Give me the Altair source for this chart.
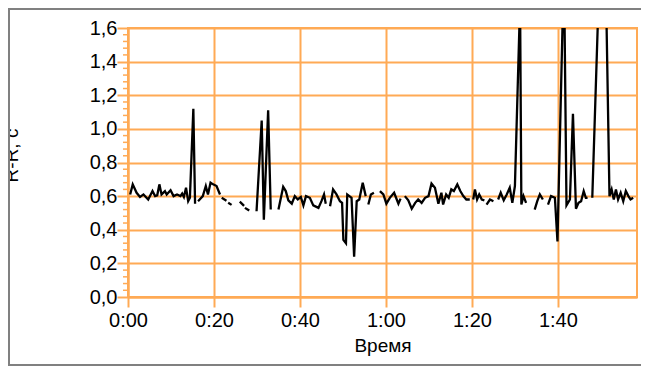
import altair as alt
import pandas as pd

# time (seconds), R-R interval (s), continuous segment id
t_sec = [0.5, 1.1, 2.0, 2.8, 3.6, 4.7, 5.7, 6.3, 6.8, 7.3, 7.8, 8.6, 9.0, 9.9, 10.6, 11.4, 12.2, 12.6, 13.0, 13.5, 14.0, 14.4, 15.2, 15.6,
         16.3, 17.4, 18.1, 18.6, 19.2, 19.8, 20.6, 21.4,
         21.8, 22.9,
         23.3, 24.1,
         26.0, 27.0,
         27.2, 28.2,
         29.9, 31.1, 31.6, 32.6, 33.2,
         35.0, 36.1, 36.7, 37.3, 38.1, 38.8, 39.5, 40.2, 40.8, 41.4, 42.3, 43.1, 44.3, 45.0, 45.6, 46.0,
         47.0, 47.7, 48.5, 49.3, 49.8, 50.1, 50.7, 51.0, 52.0, 52.6, 53.2, 53.8, 54.6, 55.3,
         55.9, 56.5, 57.2,
         58.6, 59.4, 60.1, 60.9, 61.9, 62.9, 63.4,
         64.4, 65.2, 66.0, 66.8, 67.5, 68.3, 69.1, 69.9, 70.6, 71.4, 72.2, 72.9, 73.3, 74.0, 74.6, 75.2, 75.8, 76.6, 77.3, 78.0, 78.7, 79.5,
         80.3, 80.7, 81.2, 81.7, 82.3, 82.9,
         83.4, 84.2, 85.0,
         86.1, 86.7, 87.4, 88.1, 88.8, 89.4, 90.0, 91.2, 91.5, 92.0, 92.6,
         94.6, 95.2, 95.8, 96.5,
         97.7, 98.4, 99.3, 99.9, 101.2, 101.5, 102.0, 102.8, 103.5, 104.2, 104.8, 105.4, 106.0, 106.5, 106.9,
         108.0, 109.5, 111.2, 112.0, 112.5, 113.0, 113.5, 114.0, 114.6, 115.2, 115.8, 116.4, 116.9, 117.5]

rr = [0.61, 0.67, 0.62, 0.595, 0.61, 0.58, 0.63, 0.60, 0.605, 0.67, 0.61, 0.63, 0.61, 0.635, 0.60, 0.61, 0.60, 0.615, 0.595, 0.65, 0.57, 0.59, 1.12, 0.555,
      0.57, 0.60, 0.66, 0.61, 0.68, 0.67, 0.66, 0.61,
      0.59, 0.573,
      0.561, 0.548,
      0.567, 0.542,
      0.53, 0.514,
      0.51, 1.05, 0.46, 1.11, 0.52,
      0.52, 0.655, 0.63, 0.575, 0.555, 0.60, 0.58, 0.595, 0.545, 0.60, 0.59, 0.545, 0.53, 0.57, 0.61, 0.555,
      0.54, 0.64, 0.61, 0.57, 0.56, 0.34, 0.32, 0.61, 0.59, 0.24, 0.57, 0.58, 0.68, 0.60,
      0.55, 0.61, 0.62,
      0.63, 0.61, 0.555, 0.59, 0.62, 0.555, 0.585,
      0.60, 0.575, 0.525, 0.56, 0.58, 0.56, 0.59, 0.60, 0.675, 0.65, 0.555, 0.62, 0.55, 0.61, 0.59, 0.64, 0.63, 0.67, 0.63, 0.60, 0.58, 0.58,
      0.58, 0.64, 0.58, 0.61, 0.58, 0.575,
      0.55, 0.58, 0.57,
      0.58, 0.62, 0.575, 0.61, 0.65, 0.56, 0.66, 1.75, 0.55, 0.60, 0.56,
      0.52, 0.57, 0.61, 0.58,
      0.55, 0.60, 0.59, 0.33, 1.75, 1.75, 0.545, 0.58, 1.09, 0.525, 0.56, 0.57, 0.63, 0.59, 0.59,
      0.59, 1.8, 1.8, 0.60, 0.64, 0.58, 0.64, 0.58, 0.62, 0.57, 0.63, 0.60, 0.58, 0.59]

seg = [1] * 24 + [2] * 8 + [3] * 2 + [4] * 2 + [5] * 2 + [6] * 2 + [7] * 5 + [8] * 16 + [9] * 14 + [10] * 3 + \
      [11] * 7 + [12] * 22 + [13] * 6 + [14] * 3 + [15] * 11 + [16] * 4 + [17] * 15 + [18] * 14

x_ticks = [0, 20, 40, 60, 80, 100]
y_ticks = [0.0, 0.2, 0.4, 0.6, 0.8, 1.0, 1.2, 1.4, 1.6]
y_minor = [0.04, 0.08, 0.12, 0.16, 0.24, 0.28, 0.32, 0.36, 0.44, 0.48, 0.52, 0.56,
           0.64, 0.68, 0.72, 0.76, 0.84, 0.88, 0.92, 0.96, 1.04, 1.08, 1.12, 1.16,
           1.24, 1.28, 1.32, 1.36, 1.44, 1.48, 1.52, 1.56]

ORANGE = "#FFAA55"
FONT = "Liberation Sans"

df = pd.DataFrame({"t": t_sec, "rr": rr, "seg": seg})
minor_df = pd.DataFrame({"v": y_minor})

x_scale = alt.Scale(domain=[0, 118.4], nice=False, zero=False)
y_scale = alt.Scale(domain=[0, 1.6], nice=False)

y_axis = alt.Axis(values=y_ticks, title="R-R, c", labelOverlap=False, labelFlush=False,
                  labelExpr="replace(format(datum.value, '.1f'), '.', ',')",
                  titleAngle=270, titleX=-111, titleY=127,
                  titleAlign="center", titleBaseline="alphabetic")

line = alt.Chart(df).mark_line(color="black", strokeWidth=2.3, clip=True).encode(
    x=alt.X("t:Q", scale=x_scale,
            axis=alt.Axis(values=x_ticks, title="Время", labelFlush=False, labelOverlap=False,
                          labelExpr="floor(datum.value/60) + ':' + (datum.value % 60 < 10 ? '0' : '') + (datum.value % 60)")),
    y=alt.Y("rr:Q", scale=y_scale, axis=y_axis),
    detail="seg:N",
)

minor = alt.Chart(minor_df).mark_rule(color=ORANGE, strokeWidth=1.5).encode(
    y=alt.Y("v:Q", scale=y_scale, axis=y_axis),
    x=alt.value(-5),
    x2=alt.value(0),
)

frame = alt.Chart(alt.Data(values=[{}])).mark_rect(
    filled=False, stroke="#808080", strokeWidth=2
).encode(
    x=alt.value(-119), x2=alt.value(640), y=alt.value(-19), y2=alt.value(337)
)

chart = alt.layer(frame, line, minor).properties(
    width=509, height=269,
    autosize=alt.AutoSizeParams(type="none"),
    padding={"left": 120, "top": 20, "right": 4, "bottom": 69},
).configure_view(
    stroke=ORANGE, strokeWidth=2
).configure_axis(
    grid=True, gridColor=ORANGE, gridWidth=2, gridOpacity=1,
    domainColor=ORANGE, domainWidth=2,
    tickColor=ORANGE, tickWidth=2, tickSize=11,
    labelFont=FONT, labelFontSize=20, labelColor="black",
    titleFont=FONT, titleFontSize=19, titleFontWeight="normal", titleColor="black",
).configure_axisX(
    labelPadding=3, titlePadding=6, tickSize=10
).configure_axisY(
    labelPadding=0
)

chart.save("out.html", embed_options={"renderer": "svg", "actions": False})
